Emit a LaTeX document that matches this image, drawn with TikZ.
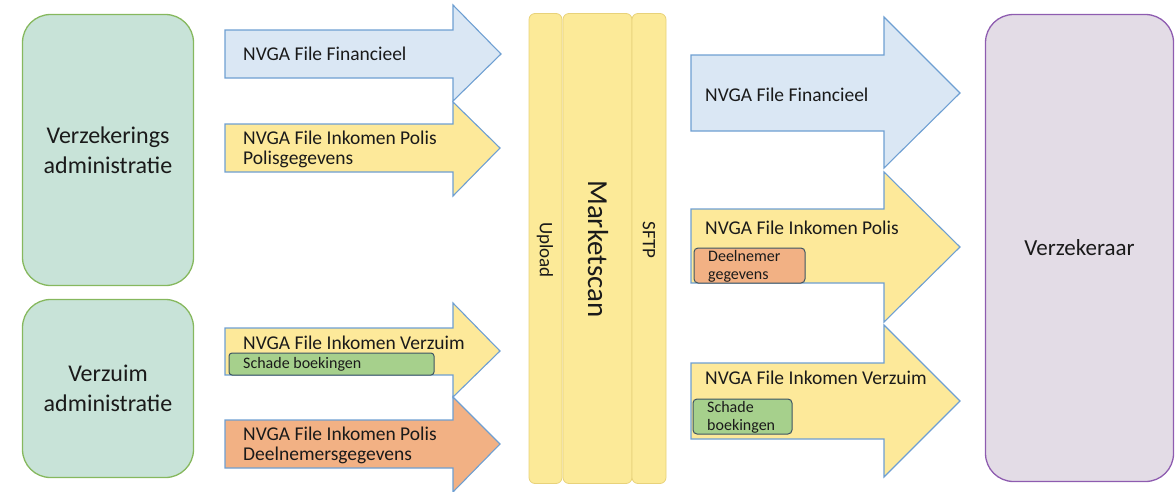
\documentclass[tikz,border=0pt]{standalone}
\usepackage{fontspec}
\setmainfont{Carlito}
\definecolor{boxgreen}{HTML}{C8E3D8}
\definecolor{boxgreenline}{HTML}{86B85E}
\definecolor{arrblue}{HTML}{DAE7F4}
\definecolor{arrline}{HTML}{6E9FD2}
\definecolor{arryellow}{HTML}{FDE99A}
\definecolor{arrorange}{HTML}{F2B184}
\definecolor{tagreen}{HTML}{A6D08C}
\definecolor{tagline}{HTML}{3E5563}
\definecolor{barfill}{HTML}{FCEA98}
\definecolor{barline}{HTML}{E8D27A}
\definecolor{lavender}{HTML}{E3DCE6}
\definecolor{purpleline}{HTML}{8E5CB0}
\definecolor{txt}{HTML}{1A1A1A}
\newcommand\fBig{\fontsize{24}{30}\selectfont}
\newcommand\fBigR{\fontsize{23}{30}\selectfont}
\newcommand\fArr{\fontsize{19.5}{20}\selectfont}
\newcommand\fTag{\fontsize{16}{18}\selectfont}
\newcommand\fBar{\fontsize{19}{20}\selectfont}
\newcommand\fMs{\fontsize{29}{30}\selectfont}
\tikzset{
  srcbox/.style={draw=boxgreenline, fill=boxgreen, line width=1.3pt, rounded corners=28pt, text=txt, font=\fBig, align=center},
  dstbox/.style={draw=purpleline, fill=lavender, line width=1.3pt, rounded corners=28pt, text=txt, font=\fBigR},
  barbox/.style={draw=barline, fill=barfill, line width=0.8pt, rounded corners=6pt, text=txt},
  fatarrow/.style={draw=arrline, line width=1.1pt, line join=miter},
  arrtext/.style={anchor=west, text=txt, font=\fArr, align=left, inner sep=0pt},
  tagbox/.style={draw=tagline, line width=1pt, rounded corners=4pt},
  tagtext/.style={anchor=west, text=txt, font=\fTag, align=left, inner sep=0pt}
}
\begin{document}
\begin{tikzpicture}[x=1pt,y=-1pt]
\useasboundingbox (0,0) rectangle (1175,491);
% source boxes
\node[srcbox, minimum width=171pt, minimum height=271pt] (verz) at (108,150) {Verzekerings\\administratie};
\node[srcbox, minimum width=171pt, minimum height=178pt] (verzuim) at (108,388.5) {Verzuim\\administratie};
% destination
\node[dstbox, minimum width=188pt, minimum height=467pt] (verzekeraar) at (1079.5,248) {Verzekeraar};
% Marketscan bars
\node[barbox, minimum width=33pt, minimum height=470pt] (upload) at (545.5,248.5) {};
\node[barbox, minimum width=69pt, minimum height=470pt] (marketscan) at (597.5,248.5) {};
\node[barbox, minimum width=34pt, minimum height=470pt] (sftp) at (649,248.5) {};
\node[rotate=-90, font=\fBar, text=txt] (uploadlbl) at (545,250) {Upload};
\node[rotate=-90, font=\fMs, text=txt] (mslbl) at (598,249) {Marketscan};
\node[rotate=-90, font=\fBar, text=txt] (sftplbl) at (649,240) {SFTP};
% left arrows
\draw[fatarrow, fill=arrblue] (225,30) -- (453,30) -- (453,5) -- (501,54) -- (453,101) -- (453,78) -- (225,78) -- cycle;
\node[arrtext] (l1) at (243,54) {NVGA File Financieel};
\draw[fatarrow, fill=arryellow] (225,124) -- (453,124) -- (453,102) -- (500,148) -- (453,196) -- (453,172) -- (225,172) -- cycle;
\node[arrtext] (l2) at (243,149) {NVGA File Inkomen Polis\\Polisgegevens};
\draw[fatarrow, fill=arryellow] (225,328) -- (453,328) -- (453,303) -- (500,351) -- (453,397) -- (453,375) -- (225,375) -- cycle;
\node[arrtext] (l3) at (243,343) {NVGA File Inkomen Verzuim};
\draw[tagbox, fill=tagreen, rounded corners=3pt] (229,353) rectangle (434,375);
\node[tagtext] (l3t) at (243,364) {Schade boekingen};
\draw[fatarrow, fill=arrorange] (225,420) -- (453,420) -- (453,397) -- (500,444) -- (453,492) -- (453,468) -- (225,468) -- cycle;
\node[arrtext] (l4) at (243,445) {NVGA File Inkomen Polis\\Deelnemersgegevens};
% right arrows
\draw[fatarrow, fill=arrblue] (691,55) -- (884,55) -- (884,17) -- (960,93) -- (884,168) -- (884,131) -- (691,131) -- cycle;
\node[arrtext] (r1) at (705,95) {NVGA File Financieel};
\draw[fatarrow, fill=arryellow] (691,209) -- (884,209) -- (884,172) -- (960,247) -- (884,322) -- (884,283) -- (691,283) -- cycle;
\node[arrtext] (r2) at (705,228) {NVGA File Inkomen Polis};
\draw[tagbox, fill=arrorange] (694,248) rectangle (805,283);
\node[tagtext] (r2t) at (708,266) {Deelnemer\\gegevens};
\draw[fatarrow, fill=arryellow] (691,363) -- (884,363) -- (884,325) -- (960,401) -- (884,477) -- (884,439) -- (691,439) -- cycle;
\node[arrtext] (r3) at (705,378) {NVGA File Inkomen Verzuim};
\draw[tagbox, fill=tagreen] (693,399) rectangle (792,434);
\node[tagtext] (r3t) at (707,417) {Schade\\boekingen};
\end{tikzpicture}
\end{document}
